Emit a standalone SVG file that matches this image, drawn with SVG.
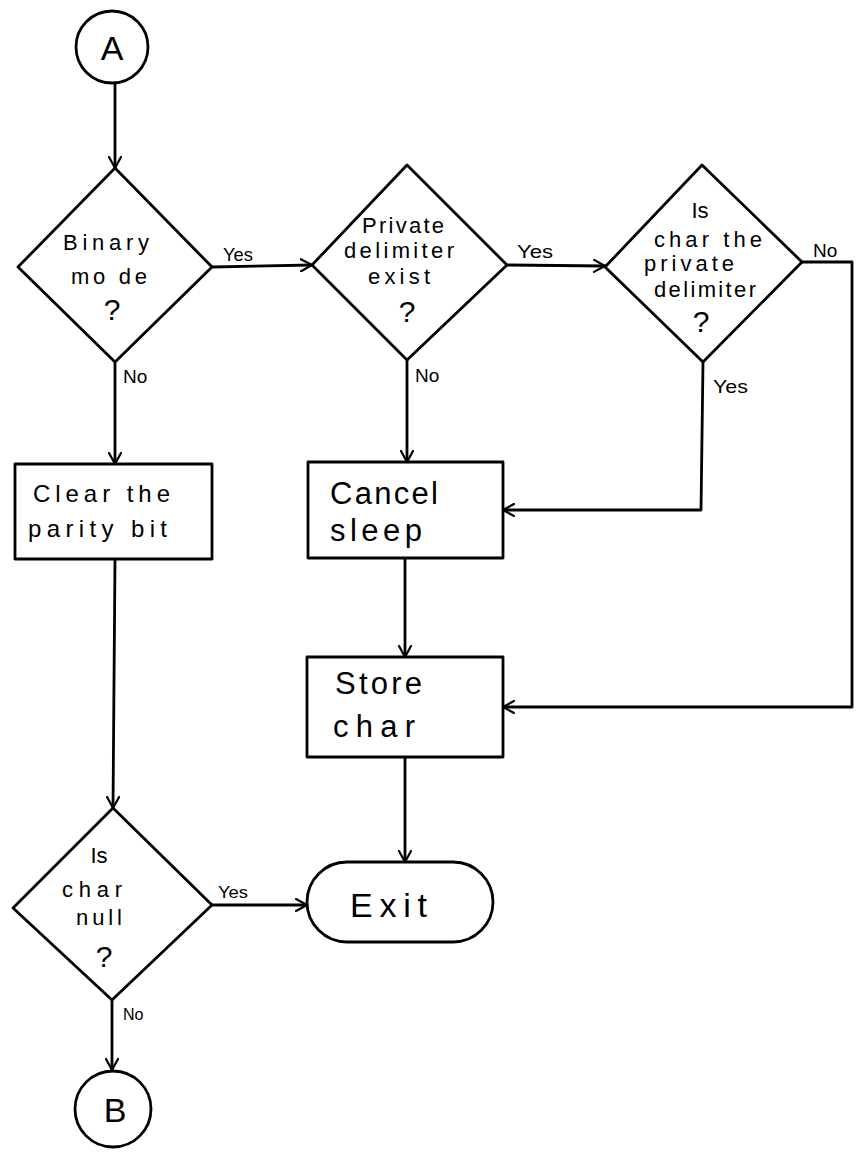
<svg xmlns="http://www.w3.org/2000/svg" width="857" height="1153" viewBox="0 0 857 1153">
<defs>
<style>
.s{fill:none;stroke:#000;stroke-width:2.8;stroke-linejoin:round;stroke-linecap:round}
.n{fill:#fff;stroke:#000;stroke-width:2.8;stroke-linejoin:round}
.t{font-family:"Liberation Sans",Arial,sans-serif;fill:#000}
.big{font-size:31px}
.mid{font-size:24px}
.dt{font-size:22px;text-anchor:middle}
.lb{font-size:19px}
.q{font-size:30px;text-anchor:middle}
</style>
<marker id="ah" markerWidth="14" markerHeight="14" refX="12" refY="7" orient="auto" markerUnits="userSpaceOnUse">
<path d="M1,1 L12,7 L1,13" fill="none" stroke="#000" stroke-width="2.2" stroke-linecap="round" stroke-linejoin="round"/>
</marker>
</defs>
<rect width="857" height="1153" fill="#fff"/>

<g id="connectors">
<line class="s" x1="115" y1="84" x2="115" y2="168" marker-end="url(#ah)"/>
<line class="s" x1="212" y1="267" x2="312" y2="265" marker-end="url(#ah)"/>
<line class="s" x1="507" y1="265" x2="605" y2="266" marker-end="url(#ah)"/>
<polyline class="s" points="802,262 852,262 852,707 503,707" marker-end="url(#ah)"/>
<polyline class="s" points="703,362 701,510 503,510" marker-end="url(#ah)"/>
<line class="s" x1="407" y1="360" x2="407" y2="462" marker-end="url(#ah)"/>
<line class="s" x1="405" y1="558" x2="405" y2="657" marker-end="url(#ah)"/>
<line class="s" x1="405" y1="757" x2="405" y2="862" marker-end="url(#ah)"/>
<line class="s" x1="115" y1="362" x2="115" y2="464" marker-end="url(#ah)"/>
<line class="s" x1="115" y1="559" x2="113" y2="808" marker-end="url(#ah)"/>
<line class="s" x1="212" y1="905" x2="307" y2="905" marker-end="url(#ah)"/>
<line class="s" x1="112" y1="1000" x2="112" y2="1070" marker-end="url(#ah)"/>
<text class="t lb" x="223" y="261" textLength="30" lengthAdjust="spacingAndGlyphs">Yes</text>
<text class="t lb" x="123" y="383">No</text>
<text class="t lb" x="517" y="258" textLength="36" lengthAdjust="spacingAndGlyphs">Yes</text>
<text class="t lb" x="415" y="382">No</text>
<text class="t lb" x="813" y="257">No</text>
<text class="t lb" x="713" y="393" textLength="35" lengthAdjust="spacingAndGlyphs">Yes</text>
<text class="t" font-size="16" x="218" y="898" textLength="30" lengthAdjust="spacingAndGlyphs">Yes</text>
<text class="t" font-size="16" x="123" y="1020">No</text>
</g>

<g id="A">
<circle class="n" cx="112" cy="47" r="36"/>
<text class="t" font-size="34" x="112" y="60" text-anchor="middle">A</text>
</g>

<g id="binary">
<polygon class="n" points="115,168 212,267 115,362 18,267"/>
<text class="t dt" x="106" y="250" textLength="86" lengthAdjust="spacing">Binary</text>
<text class="t dt" x="109" y="284" textLength="76" lengthAdjust="spacing">mo de</text>
<text class="t q" x="112" y="320">?</text>
</g>

<g id="private">
<polygon class="n" points="407,165 507,265 407,360 312,265"/>
<text class="t dt" x="403" y="233" textLength="82" lengthAdjust="spacing">Private</text>
<text class="t dt" x="399" y="258" textLength="110" lengthAdjust="spacing">delimiter</text>
<text class="t dt" x="399" y="284" textLength="62" lengthAdjust="spacing">exist</text>
<text class="t q" x="407" y="322">?</text>
</g>

<g id="ischar">
<polygon class="n" points="702,165 802,262 703,362 605,267"/>
<text class="t dt" x="700" y="218">Is</text>
<text class="t dt" x="708" y="247" textLength="108" lengthAdjust="spacing">char the</text>
<text class="t dt" x="689" y="271" textLength="90" lengthAdjust="spacing">private</text>
<text class="t dt" x="705" y="297" textLength="102" lengthAdjust="spacing">delimiter</text>
<text class="t q" x="701" y="332">?</text>
</g>

<g id="clear">
<rect class="n" x="15" y="464" width="197" height="95"/>
<text class="t mid" x="33" y="502" textLength="137" lengthAdjust="spacing">Clear the</text>
<text class="t mid" x="28" y="537" textLength="139" lengthAdjust="spacing">parity bit</text>
</g>

<g id="cancel">
<rect class="n" x="308" y="462" width="195" height="96"/>
<text class="t big" x="330" y="504" textLength="108" lengthAdjust="spacing">Cancel</text>
<text class="t big" x="330" y="541" textLength="92" lengthAdjust="spacing">sleep</text>
</g>

<g id="store">
<rect class="n" x="307" y="657" width="196" height="100"/>
<text class="t big" x="335" y="694" textLength="87" lengthAdjust="spacing">Store</text>
<text class="t big" x="333" y="737" textLength="82" lengthAdjust="spacing">char</text>
</g>

<g id="exit">
<rect class="n" x="307" y="862" width="186" height="80" rx="40" ry="40"/>
<text class="t" font-size="34" x="350" y="917" textLength="77" lengthAdjust="spacing">Exit</text>
</g>

<g id="isnull">
<polygon class="n" points="113,808 212,905 112,1000 13,908"/>
<text class="t dt" x="99" y="863">Is</text>
<text class="t dt" x="92" y="897" textLength="60" lengthAdjust="spacing">char</text>
<text class="t dt" x="99" y="925" textLength="46" lengthAdjust="spacing">null</text>
<text class="t q" x="104" y="967">?</text>
</g>

<g id="B">
<circle class="n" cx="113" cy="1109" r="38"/>
<text class="t" font-size="34" x="115" y="1122" text-anchor="middle">B</text>
</g>
</svg>
